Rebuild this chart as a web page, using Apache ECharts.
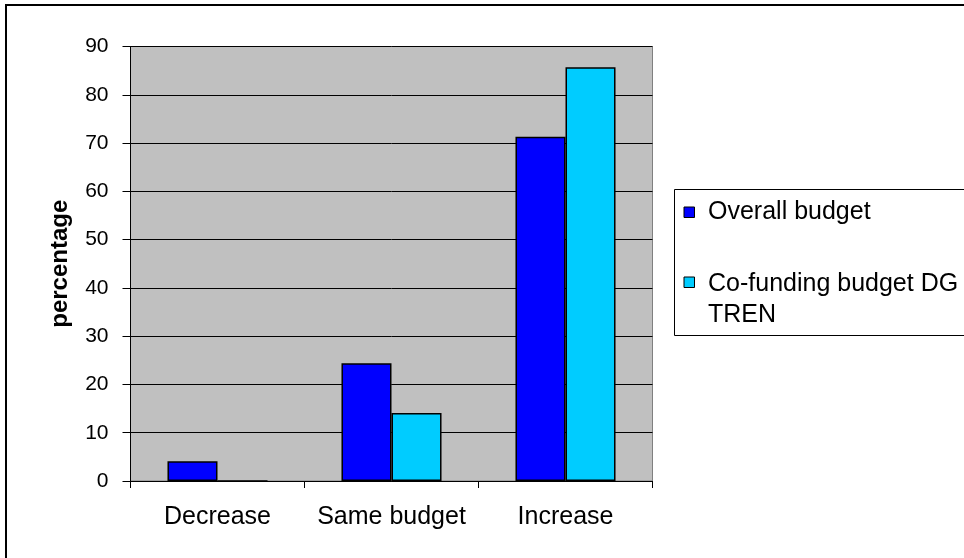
<!DOCTYPE html>
<html>
<head>
<meta charset="utf-8">
<script src="https://cdn.jsdelivr.net/npm/echarts@6/dist/echarts.min.js"></script>
<style>
  html, body { margin: 0; padding: 0; background: #fff; }
  #chart { width: 964px; height: 558px; }
</style>
</head>
<body>
<div id="chart"></div>
<script>
// Budget change answers, in percent of respondents
const categories = ['Decrease', 'Same budget', 'Increase'];
const seriesNames = ['Overall budget', 'Co-funding budget DG\nTREN'];
const overallBudget = [4.1, 24.4, 71.3];
const coFundingBudget = [0, 14.1, 85.7];
const yTicks = { min: 0, max: 90, step: 10 };

const colors = ['#0000ff', '#00ccff'];
const FONT = '"Liberation Sans", Arial, Helvetica, sans-serif';

const chart = echarts.init(document.getElementById('chart'));

// Legend drawn as a framed box with one swatch per series
function legendGraphics() {
  const items = [
    { name: seriesNames[0], color: colors[0], swatchY: 207, textY: 196.5 },
    { name: seriesNames[1], color: colors[1], swatchY: 277, textY: 268.5 }
  ];
  const els = [{
    type: 'rect',
    shape: { x: 674.5, y: 189.5, width: 400, height: 146 },
    style: { fill: '#fff', stroke: '#000', lineWidth: 1 },
    z: 10
  }];
  items.forEach(it => {
    els.push({
      type: 'rect',
      shape: { x: 684, y: it.swatchY, width: 10.5, height: 10.5 },
      style: { fill: it.color, stroke: '#000', lineWidth: 1 },
      z: 11
    });
    els.push({
      type: 'text',
      x: 708, y: it.textY,
      style: {
        text: it.name, fill: '#000',
        font: '25px ' + FONT, lineHeight: 31,
        verticalAlign: 'top', align: 'left'
      },
      z: 11
    });
  });
  return els;
}

chart.setOption({
  animation: false,
  backgroundColor: '#ffffff',
  textStyle: { fontFamily: FONT, color: '#000' },
  grid: {
    left: 130.5, top: 46.5, right: 311.5, bottom: 77,
    show: true, backgroundColor: '#c0c0c0',
    borderColor: '#808080', borderWidth: 1,
    containLabel: false
  },
  xAxis: {
    type: 'category',
    data: categories,
    axisLine: { show: true, lineStyle: { color: '#000', width: 1 } },
    axisTick: { show: true, alignWithLabel: false, length: 7, lineStyle: { color: '#000' } },
    axisLabel: { interval: 0, fontSize: 25, color: '#000', margin: 24, fontFamily: FONT },
    splitLine: { show: false }
  },
  yAxis: {
    type: 'value',
    min: yTicks.min, max: yTicks.max, interval: yTicks.step,
    name: 'percentage',
    nameLocation: 'middle',
    nameRotate: 90,
    nameGap: 58,
    nameTextStyle: { fontSize: 24, fontWeight: 'bold', color: '#000', fontFamily: FONT },
    axisLine: { show: true, lineStyle: { color: '#000', width: 1 } },
    axisTick: { show: true, length: 8, lineStyle: { color: '#000' } },
    axisLabel: { fontSize: 21, color: '#000', margin: 22, fontFamily: FONT },
    splitLine: { show: true, lineStyle: { color: '#000', width: 1 } }
  },
  series: [
    {
      name: seriesNames[0], type: 'bar', data: overallBudget,
      barGap: '0%', barCategoryGap: '42.5%',
      itemStyle: { color: colors[0], borderColor: '#000', borderWidth: 1.5 }
    },
    {
      name: seriesNames[1], type: 'bar', data: coFundingBudget,
      barGap: '0%', barCategoryGap: '42.5%',
      itemStyle: { color: colors[1], borderColor: '#000', borderWidth: 1.5 }
    }
  ],
  graphic: [
    {
      type: 'rect',
      shape: { x: 6, y: 5, width: 1100, height: 700 },
      style: { fill: 'none', stroke: '#000', lineWidth: 2 },
      z: 20, silent: true
    }
  ].concat(legendGraphics())
});
</script>
</body>
</html>
